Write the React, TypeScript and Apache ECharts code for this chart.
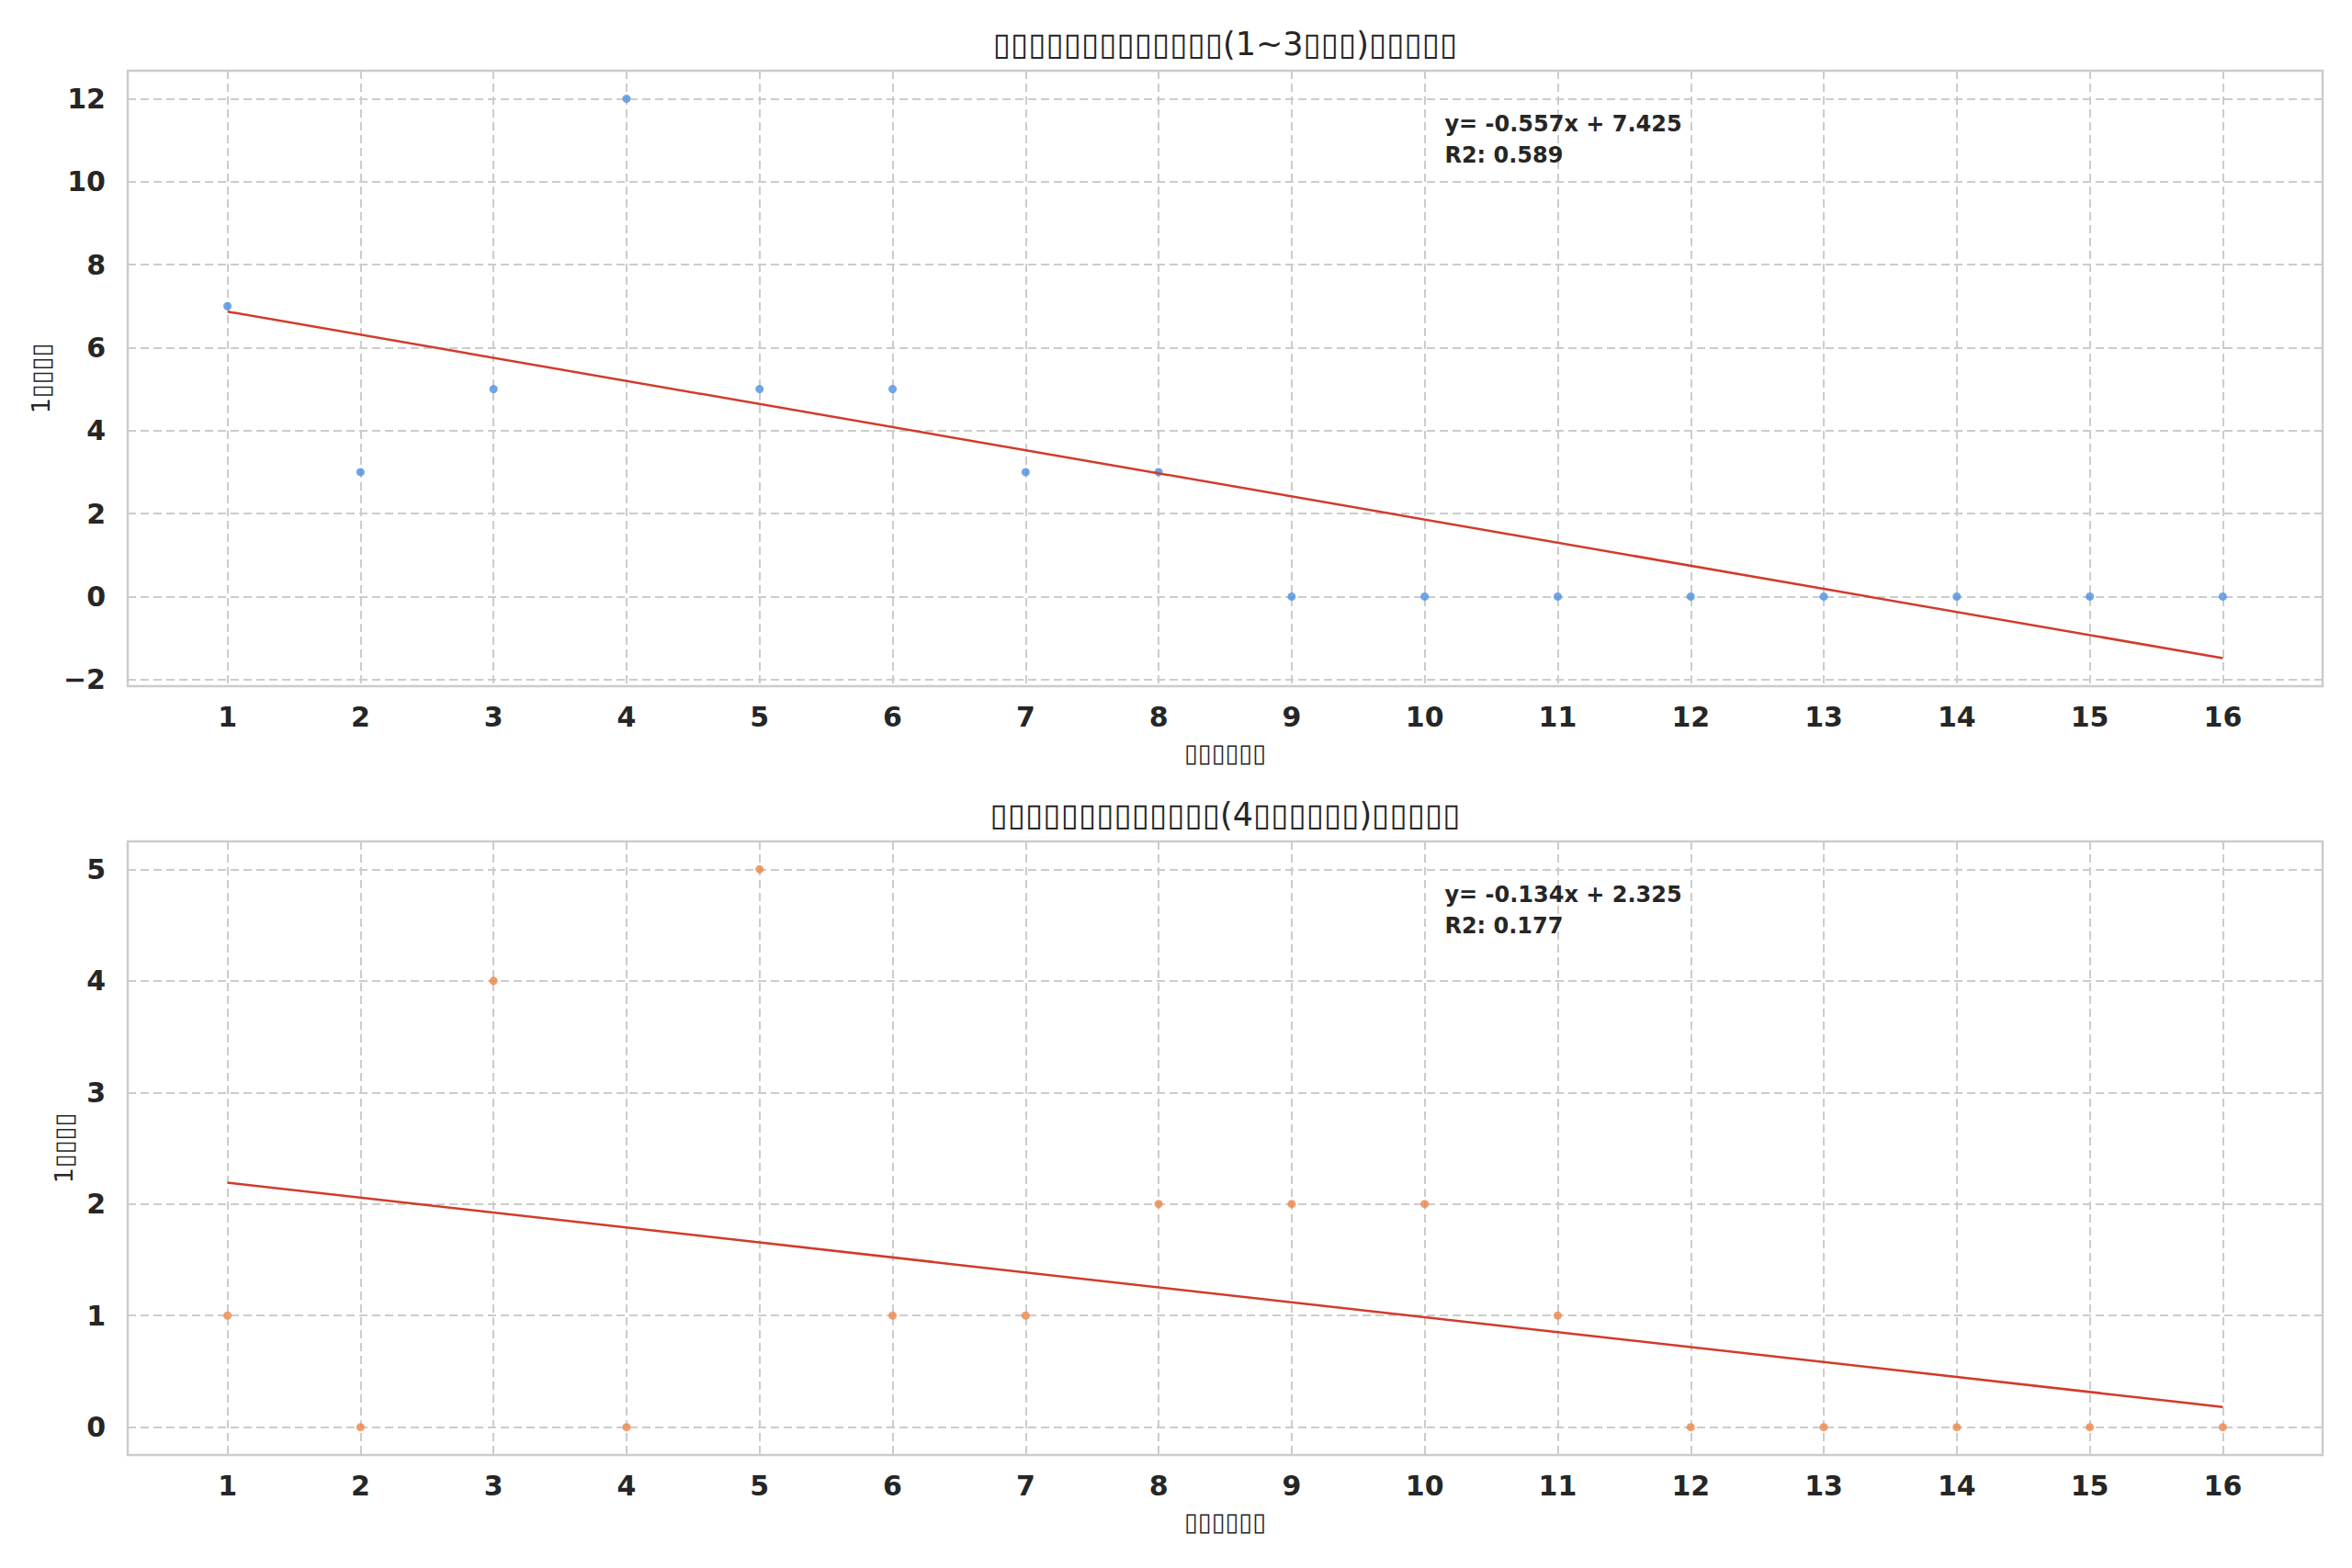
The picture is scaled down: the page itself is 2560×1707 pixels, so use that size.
import React, { useEffect, useRef } from "react";
import * as echarts from "echarts";

// ---- data ----
const orders = [1, 2, 3, 4, 5, 6, 7, 8, 9, 10, 11, 12, 13, 14, 15, 16];
const topCounts = [7, 3, 5, 12, 5, 5, 3, 3, 0, 0, 0, 0, 0, 0, 0, 0];
const bottomCounts = [1, 0, 4, 0, 5, 1, 1, 2, 2, 2, 1, 0, 0, 0, 0, 0];
const fitSlopes = [-0.557, -0.134];
const fitIntercepts = [7.425, 2.325];
const fitR2 = [0.589, 0.177];
const titles = [
  "▯▯▯▯▯▯▯▯▯▯▯▯▯(1~3▯▯▯)▯▯▯▯▯",
  "▯▯▯▯▯▯▯▯▯▯▯▯▯(4▯▯▯▯▯▯)▯▯▯▯▯",
];
const xLabel = "▯▯▯▯▯▯";
const yLabel = "1▯▯▯▯";
const yTickSteps = [2, 1];

const FONT = "'DejaVu Sans', 'Liberation Sans', sans-serif";
const TEXT = "#262626";
const GRID = "#cccccc";
const POINT_COLORS = ["#4a8fe0", "#ee8449"];
const LINE_COLOR = "#d23a2b";

function fitLine(i: number): number[][] {
  const x0 = orders[0];
  const x1 = orders[orders.length - 1];
  return [
    [x0, fitSlopes[i] * x0 + fitIntercepts[i]],
    [x1, fitSlopes[i] * x1 + fitIntercepts[i]],
  ];
}

function extent(vals: number[]): [number, number] {
  const mn = Math.min(...vals);
  const mx = Math.max(...vals);
  const m = (mx - mn) * 0.05;
  return [mn - m, mx + m];
}

export default function App() {
  const ref = useRef<HTMLDivElement>(null);
  useEffect(() => {
    if (!ref.current) return;
    const chart = echarts.init(ref.current, undefined, { renderer: "svg" });

    const gridLeft = 139;
    const gridW = 2389;
    const grids = [
      { top: 77, height: 670 },
      { top: 916, height: 668 },
    ];
    const datasets = [topCounts, bottomCounts];
    const xExt = extent(orders);

    const fmtY = (step: number) => (v: number) => {
      const r = Math.round(v / step) * step;
      if (Math.abs(r - v) > 1e-6) return "";
      return r < 0 ? "\u2212" + Math.abs(r) : String(r);
    };

    const option: any = {
      animation: false,
      backgroundColor: "#ffffff",
      grid: grids.map((g) => ({
        left: gridLeft,
        top: g.top,
        width: gridW,
        height: g.height,
        show: true,
        borderColor: GRID,
        borderWidth: 2.5,
        backgroundColor: "transparent",
        containLabel: false,
      })),
      xAxis: grids.map((g, i) => ({
        type: "value",
        gridIndex: i,
        min: xExt[0],
        max: xExt[1],
        minInterval: 1,
        maxInterval: 1,
        splitNumber: 16,
        axisLine: { show: false },
        axisTick: { show: false },
        axisLabel: {
          margin: 18,
          fontFamily: FONT,
          fontSize: 30,
          fontWeight: "bold",
          color: TEXT,
          showMinLabel: true,
          showMaxLabel: true,
          formatter: (v: number) =>
            Math.abs(v - Math.round(v)) < 1e-6 ? String(Math.round(v)) : "",
        },
        splitLine: {
          show: true,
          lineStyle: { color: GRID, width: 2, type: [9, 5] },
        },
        name: xLabel,
        nameLocation: "middle",
        nameGap: 59,
        nameTextStyle: { fontFamily: FONT, fontSize: 27, color: TEXT },
      })),
      yAxis: grids.map((g, i) => {
        const e = extent([...datasets[i], ...fitLine(i).map((p) => p[1])]);
        return {
          type: "value",
          gridIndex: i,
          min: e[0],
          max: e[1],
          minInterval: yTickSteps[i],
          maxInterval: yTickSteps[i],
          axisLine: { show: false },
          axisTick: { show: false },
          axisLabel: {
            margin: 24,
            fontFamily: FONT,
            fontSize: 30,
            fontWeight: "bold",
            color: TEXT,
            formatter: fmtY(yTickSteps[i]),
          },
          splitLine: {
            show: true,
            lineStyle: { color: GRID, width: 2, type: [9, 5] },
          },
          name: yLabel,
          nameLocation: "middle",
          nameGap: i === 0 ? 77 : 49,
          nameRotate: 90,
          nameTextStyle: { fontFamily: FONT, fontSize: 27, color: TEXT },
        };
      }),
      series: [
        ...datasets.map((d, i) => ({
          type: "scatter",
          xAxisIndex: i,
          yAxisIndex: i,
          symbolSize: 9,
          itemStyle: { color: POINT_COLORS[i] },
          data: orders.map((x, k) => [x, d[k]]),
          z: 2,
        })),
        ...datasets.map((d, i) => ({
          type: "line",
          xAxisIndex: i,
          yAxisIndex: i,
          showSymbol: false,
          symbol: "none",
          lineStyle: { color: LINE_COLOR, width: 2.5 },
          data: fitLine(i),
          z: 3,
        })),
      ],
      graphic: [
        ...grids.map((g, i) => ({
          type: "text",
          z: 100,
          x: gridLeft + gridW / 2,
          y: g.top - 29,
          style: {
            text: titles[i],
            fontFamily: FONT,
            fontSize: 35,
            fill: TEXT,
            textAlign: "center",
            textVerticalAlign: "middle",
          },
        })),
        ...grids.map((g, i) => ({
          type: "text",
          z: 100,
          x: gridLeft + gridW * 0.6,
          y: g.top + 41,
          style: {
            text:
              "y= " +
              fitSlopes[i].toFixed(3) +
              "x + " +
              fitIntercepts[i].toFixed(3) +
              "\nR2: " +
              fitR2[i].toFixed(3),
            fontFamily: FONT,
            fontSize: 24,
            fontWeight: "bold",
            lineHeight: 34,
            fill: TEXT,
            textAlign: "left",
            textVerticalAlign: "top",
          },
        })),
      ],
    };
    chart.setOption(option);
    return () => chart.dispose();
  }, []);
  return (
    <div
      ref={ref}
      style={{ position: "absolute", left: 0, top: 0, width: 2560, height: 1707 }}
    />
  );
}
